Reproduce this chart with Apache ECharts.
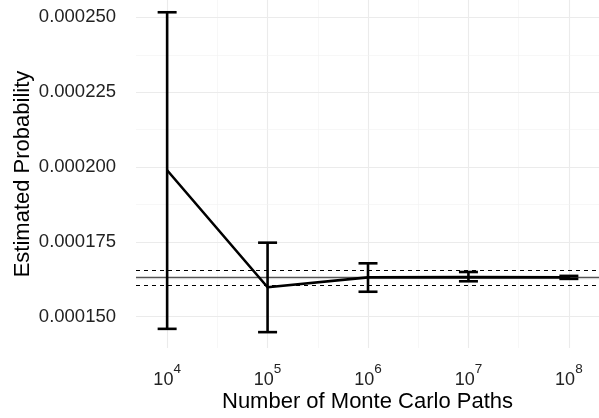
<!DOCTYPE html>
<html>
<head>
<meta charset="utf-8">
<script src="https://cdn.jsdelivr.net/npm/echarts@6/dist/echarts.min.js"></script>
<style>
  html, body { margin: 0; padding: 0; background: #fff; }
  #chart { width: 599px; height: 418px; }
</style>
</head>
<body>
<div id="chart"></div>
<script>
// number of paths, as powers of ten
var pathExponents = [4, 5, 6, 7, 8];
var estimate = [0.0001989, 0.0001598, 0.0001631, 0.0001632, 0.0001631];
var lower = [0.0001459, 0.0001448, 0.0001583, 0.0001618, 0.0001626];
var upper = [0.0002517, 0.0001747, 0.0001678, 0.0001649, 0.0001636];

// reference value and its band
var refValue = 0.0001630;
var refBand = [0.0001605, 0.0001656];

var yTicks = [0.000150, 0.000175, 0.000200, 0.000225, 0.000250];
var yMinorTicks = [0.0001625, 0.0001875, 0.0002125, 0.0002375];
var xMinorTicks = [4.5, 5.5, 6.5, 7.5];

var xMin = 3.69, xMax = 8.3;
var yMin = 0.0001395, yMax = 0.0002558;

var myChart = echarts.init(document.getElementById('chart'));

function vLine(x, style) {
  return [{ coord: [x, yMin], lineStyle: style }, { coord: [x, yMax] }];
}
function hLine(y, style) {
  return [{ coord: [xMin, y], lineStyle: style }, { coord: [xMax, y] }];
}

var major = { color: '#ebebeb', width: 1.1, type: 'solid' };
var minor = { color: '#f2f2f2', width: 0.6, type: 'solid' };
var gridLines = [];
pathExponents.forEach(function (v) { gridLines.push(vLine(v, major)); });
xMinorTicks.forEach(function (v) { gridLines.push(vLine(v, minor)); });
yTicks.forEach(function (v) { gridLines.push(hLine(v, major)); });
yMinorTicks.forEach(function (v) { gridLines.push(hLine(v, minor)); });

var dashed = { color: '#000', width: 1, type: [4, 4] };

var option = {
  animation: false,
  backgroundColor: '#fff',
  textStyle: { fontFamily: 'Liberation Sans, Arial, sans-serif' },
  grid: {
    left: 136,
    right: 0,
    top: 0,
    bottom: 70,
    outerBoundsMode: 'none'
  },
  xAxis: {
    type: 'value',
    min: xMin,
    max: xMax,
    name: 'Number of Monte Carlo Paths',
    nameLocation: 'middle',
    nameGap: 43,
    nameMoveOverlap: false,
    nameTextStyle: { color: '#000', fontSize: 22 },
    axisLine: { show: false },
    axisTick: { show: false },
    splitLine: { show: false },
    axisLabel: {
      customValues: pathExponents,
      margin: 14,
      formatter: function (v) { return '{b|10}{s|' + v + '}'; },
      rich: {
        b: { fontSize: 18, color: '#222', lineHeight: 36 },
        s: { fontSize: 13.5, color: '#222', lineHeight: 12, verticalAlign: 'top' }
      }
    }
  },
  yAxis: {
    type: 'value',
    min: yMin,
    max: yMax,
    name: 'Estimated Probability',
    nameLocation: 'middle',
    nameGap: 102,
    nameMoveOverlap: false,
    nameTextStyle: { color: '#000', fontSize: 22 },
    axisLine: { show: false },
    axisTick: { show: false },
    splitLine: { show: false },
    axisLabel: {
      customValues: yTicks,
      margin: 20,
      color: '#222',
      fontSize: 18.5,
      formatter: function (v) { return v.toFixed(6); }
    }
  },
  series: [
    {
      name: 'grid',
      type: 'line',
      data: [],
      silent: true,
      z: 1,
      markLine: {
        silent: true,
        z: 1,
        symbol: 'none',
        label: { show: false },
        animation: false,
        data: gridLines
      }
    },
    {
      name: 'reference',
      type: 'line',
      data: [],
      silent: true,
      z: 3,
      markLine: {
        silent: true,
        z: 3,
        symbol: 'none',
        label: { show: false },
        animation: false,
        data: [
          hLine(refBand[1], dashed),
          hLine(refValue, { color: '#555', width: 1.4, type: 'solid' }),
          hLine(refBand[0], dashed)
        ]
      }
    },
    {
      name: 'estimate',
      type: 'line',
      z: 4,
      symbol: 'none',
      lineStyle: { color: '#000', width: 2.6 },
      data: pathExponents.map(function (e, i) { return [e, estimate[i]]; })
    },
    {
      name: 'interval',
      type: 'custom',
      z: 5,
      encode: { x: 0, y: [1, 2] },
      data: pathExponents.map(function (e, i) { return [e, lower[i], upper[i]]; }),
      renderItem: function (params, api) {
        var x = api.value(0);
        var lo = api.coord([x, api.value(1)]);
        var hi = api.coord([x, api.value(2)]);
        var hw = 9.5;
        var st = { stroke: '#000', lineWidth: 2.6 };
        return {
          type: 'group',
          children: [
            { type: 'line', shape: { x1: lo[0], y1: lo[1], x2: hi[0], y2: hi[1] }, style: st },
            { type: 'line', shape: { x1: lo[0] - hw, y1: lo[1], x2: lo[0] + hw, y2: lo[1] }, style: st },
            { type: 'line', shape: { x1: hi[0] - hw, y1: hi[1], x2: hi[0] + hw, y2: hi[1] }, style: st }
          ]
        };
      }
    }
  ]
};

myChart.setOption(option);
</script>
</body>
</html>
